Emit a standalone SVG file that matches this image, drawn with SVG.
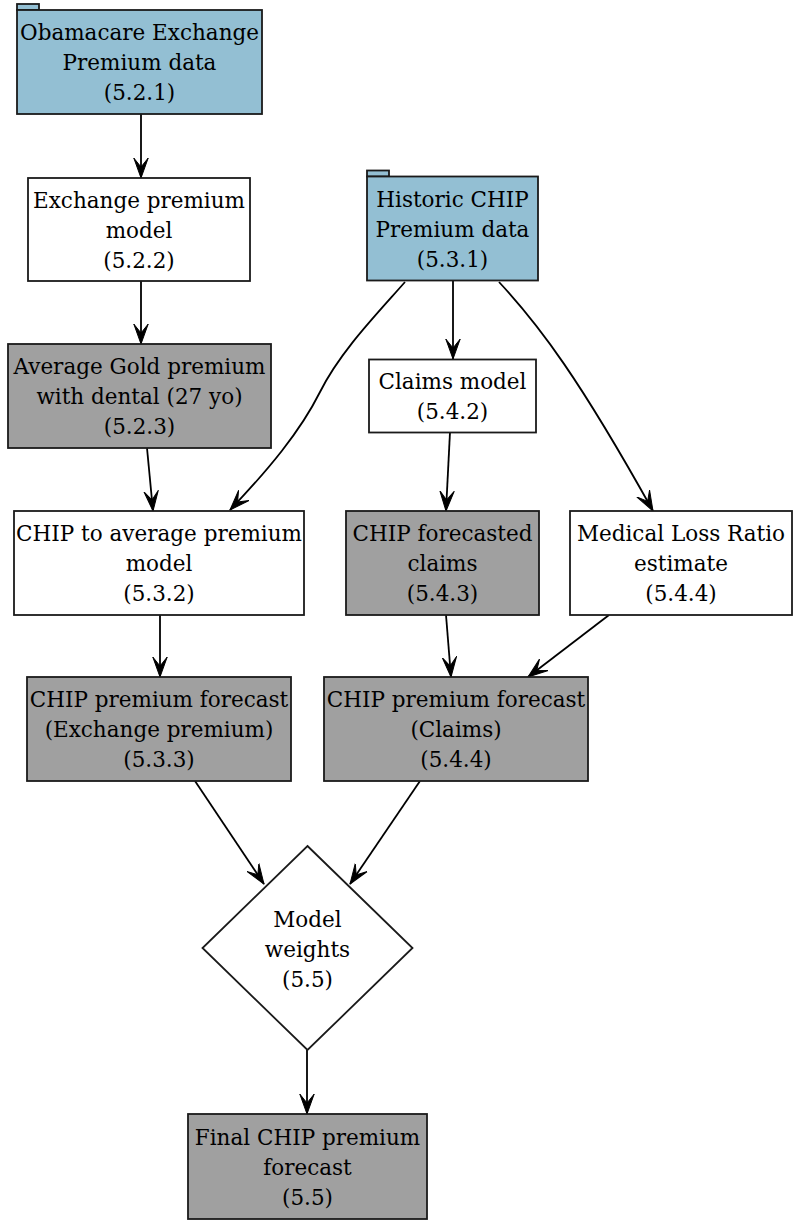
<svg xmlns="http://www.w3.org/2000/svg" width="799" height="1226" viewBox="0 0 799 1226">
<style>
.n{stroke:#1a1a1a;stroke-width:1.8}
.data{fill:#93bfd3}
.out{fill:#a0a0a0}
.proc{fill:#ffffff}
text{font-family:"DejaVu Serif","Liberation Serif",serif;font-size:21.5px;fill:#000;text-anchor:middle}
.e{fill:none;stroke:#000;stroke-width:1.8;marker-end:url(#vee)}
</style>
<defs>
<marker id="vee" markerUnits="userSpaceOnUse" markerWidth="24" markerHeight="18" refX="20" refY="8" orient="auto" viewBox="0 0 24 16">
<path d="M20,8 L0,0.8 L9,8 L0,15.2 Z" fill="#000" stroke="#000" stroke-width="1" stroke-linejoin="round"/>
</marker>
</defs>
<rect width="799" height="1226" fill="#fff"/>
<g id="connectors">
<path class="e" d="M141,114 L141,178"/>
<path class="e" d="M141,281 L141,344"/>
<path class="e" d="M147,448 L153,511"/>
<path class="e" d="M405,282 C375,316 340,352 320,392 C300,432 268,470 230,510"/>
<path class="e" d="M453,281 L453,359"/>
<path class="e" d="M499,282 C540,326 580,380 653,511"/>
<path class="e" d="M450,432 L446,511"/>
<path class="e" d="M160,615 L160,677"/>
<path class="e" d="M446,615 L451,677"/>
<path class="e" d="M609,615 L528,677"/>
<path class="e" d="M195,781 L264,884"/>
<path class="e" d="M420,781 L350,884"/>
<path class="e" d="M307,1050 L307,1114"/>
</g>
<g id="n521">
<rect class="n data" x="17" y="4" width="22" height="6"/>
<rect class="n data" x="17" y="10" width="245" height="104"/>
<text x="139.5" y="40">Obamacare Exchange</text>
<text x="139.5" y="70">Premium data</text>
<text x="139.5" y="100">(5.2.1)</text>
</g>
<g id="n522">
<rect class="n proc" x="28" y="178" width="222" height="103"/>
<text x="139" y="207.5">Exchange premium</text>
<text x="139" y="237.5">model</text>
<text x="139" y="267.5">(5.2.2)</text>
</g>
<g id="n531">
<rect class="n data" x="367" y="170.5" width="22" height="6"/>
<rect class="n data" x="367" y="176.5" width="171" height="104"/>
<text x="452.5" y="206.5">Historic CHIP</text>
<text x="452.5" y="236.5">Premium data</text>
<text x="452.5" y="266.5">(5.3.1)</text>
</g>
<g id="n523">
<rect class="n out" x="8" y="344" width="263" height="104"/>
<text x="139.5" y="374">Average Gold premium</text>
<text x="139.5" y="404">with dental (27 yo)</text>
<text x="139.5" y="434">(5.2.3)</text>
</g>
<g id="n532">
<rect class="n proc" x="14" y="511" width="290" height="104"/>
<text x="159" y="541">CHIP to average premium</text>
<text x="159" y="571">model</text>
<text x="159" y="601">(5.3.2)</text>
</g>
<g id="n542">
<rect class="n proc" x="369" y="359.5" width="167" height="73"/>
<text x="452.5" y="389">Claims model</text>
<text x="452.5" y="419">(5.4.2)</text>
</g>
<g id="n543">
<rect class="n out" x="346" y="511" width="193" height="104"/>
<text x="442.5" y="541">CHIP forecasted</text>
<text x="442.5" y="571">claims</text>
<text x="442.5" y="601">(5.4.3)</text>
</g>
<g id="n544mlr">
<rect class="n proc" x="570" y="511" width="222" height="104"/>
<text x="681" y="541">Medical Loss Ratio</text>
<text x="681" y="571">estimate</text>
<text x="681" y="601">(5.4.4)</text>
</g>
<g id="n533">
<rect class="n out" x="27" y="677" width="264" height="104"/>
<text x="159" y="707">CHIP premium forecast</text>
<text x="159" y="737">(Exchange premium)</text>
<text x="159" y="767">(5.3.3)</text>
</g>
<g id="n544">
<rect class="n out" x="324" y="677" width="264" height="104"/>
<text x="456" y="707">CHIP premium forecast</text>
<text x="456" y="737">(Claims)</text>
<text x="456" y="767">(5.4.4)</text>
</g>
<g id="n55w">
<polygon class="n proc" points="307.5,846 412.5,948 307.5,1050 202.5,948"/>
<text x="307.5" y="926.5">Model</text>
<text x="307.5" y="956.5">weights</text>
<text x="307.5" y="986.5">(5.5)</text>
</g>
<g id="n55">
<rect class="n out" x="188" y="1114" width="239" height="105"/>
<text x="307.5" y="1144.5">Final CHIP premium</text>
<text x="307.5" y="1174.5">forecast</text>
<text x="307.5" y="1204.5">(5.5)</text>
</g>
</svg>
